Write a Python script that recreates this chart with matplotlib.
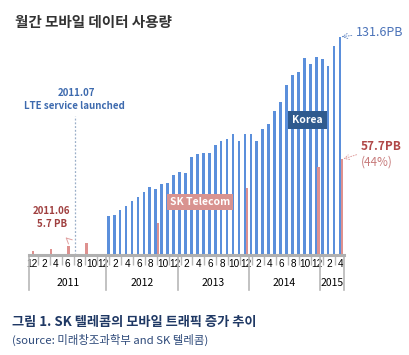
import matplotlib.pyplot as plt
import numpy as np

plt.rcParams['font.family'] = ['Noto Sans CJK KR', 'DejaVu Sans']

# months 2010-12 .. 2015-04 (53 categories)
month_nums = [12] + [m for y in range(2011, 2015) for m in range(1, 13)] + [1, 2, 3, 4]
years = ["2011", "2012", "2013", "2014", "2015"]
year_bounds = [0, 13, 25, 37, 49, 53]

# Korea total (PB), 2012-01 .. 2015-04
korea_start = 13
korea = [23.5, 24.1, 26.9, 29.5, 32.7, 34.8, 38.0, 40.8, 39.8, 42.6, 43.6, 48.2,
         50.2, 49.2, 58.9, 60.7, 61.7, 61.3, 66.1, 68.9, 69.7, 72.9, 68.9, 73.1,
         72.9, 68.9, 76.2, 79.0, 86.6, 92.6, 102.3, 108.9, 110.3, 118.6, 115.3, 119.5,
         118.1, 114.3, 126.2, 131.6]

# SK Telecom (PB) at selected months
skt_idx = [0, 3, 6, 9, 21, 36, 48, 52]
skt = [2.2, 3.4, 5.7, 7.1, 19.1, 40.2, 53.2, 57.7]

blue = "#5B8FDB"
pink = "#DE918F"
n = len(month_nums)

fig = plt.figure(figsize=(4.10, 3.55), dpi=100)
ax = fig.add_axes([29 / 410, 100 / 355, 315 / 410, 232 / 355])

kx = np.arange(korea_start, korea_start + len(korea))
ax.bar(kx - 0.17, korea, width=0.45, color=blue, zorder=2)
ax.bar(np.array(skt_idx) + 0.17, skt, width=0.42, color=pink, zorder=2)

ax.set_xlim(-0.5, n - 0.5)
ax.set_ylim(0, 140)
for s in ["top", "left", "right"]:
    ax.spines[s].set_visible(False)
ax.spines["bottom"].set_color("#B0B0B0")
ax.spines["bottom"].set_linewidth(2.2)
ax.set_yticks([])

ticks = list(range(0, n, 2))
ax.set_xticks(ticks)
ax.set_xticklabels([str(month_nums[i]) for i in ticks], fontsize=7.2,
                   color="black", family="Liberation Sans")
ax.tick_params(axis="x", length=0, pad=3)
ax.set_xticks(list(range(1, n, 2)), minor=True)
ax.tick_params(axis="x", which="minor", length=7, width=1, color="#B8B8B8")

trans = ax.get_xaxis_transform()
for b in year_bounds:
    ax.plot([b - 0.5, b - 0.5], [0, -0.15], transform=trans, color="#B8B8B8",
            lw=1.2, clip_on=False)
for k, yl in enumerate(years):
    mid = (year_bounds[k] + year_bounds[k + 1]) / 2 - 0.5
    ax.text(mid, -0.122, yl, transform=trans, ha="center", va="center",
            fontsize=7.5, color="black")

# LTE launch marker
ax.plot([7.2, 7.2], [0, 84], color="#9AAFC8", lw=0.9, ls=(0, (1.5, 1.5)), zorder=1)
ax.text(7.5, 98, "2011.07", ha="center", va="center", fontsize=7,
        fontweight="bold", color="#3D6AAE")
ax.text(7.2, 90, "LTE service launched", ha="center", va="center", fontsize=7,
        fontweight="bold", color="#3D6AAE")

# 2011.06 note
ax.text(3.3, 26.5, "2011.06", ha="center", va="center", fontsize=7,
        fontweight="bold", color="#A04040")
ax.text(3.3, 18.5, "5.7 PB", ha="center", va="center", fontsize=7,
        fontweight="bold", color="#A04040")
ax.annotate("", xy=(5.3, 11.8), xytext=(6.2, 8.8),
            arrowprops=dict(arrowstyle="->", color="#E0A0A0", lw=0.7))

# end labels
ax.annotate("131.6PB", xy=(52 - 0.17, korea[-1]), xytext=(54.5, 134.5),
            fontsize=9, color="#4A72B8", va="center", annotation_clip=False,
            arrowprops=dict(arrowstyle="->", color="#6E90C8", lw=0.7, ls=":",
                            shrinkA=1, shrinkB=1))
ax.annotate("57.7PB", xy=(52 + 0.17, skt[-1]), xytext=(55.3, 65.3),
            fontsize=8.5, fontweight="bold", color="#B04848", va="center",
            annotation_clip=False,
            arrowprops=dict(arrowstyle="->", color="#E0A0A0", lw=0.7, ls=":",
                            shrinkA=1, shrinkB=1))
ax.text(55.3, 56.2, "(44%)", fontsize=8.5, color="#C77A7A", va="center")

# series label boxes
ax.text(46.3, 81.4, "Korea", ha="center", va="center", fontsize=7.5,
        fontweight="bold", color="white", zorder=5,
        bbox=dict(boxstyle="square,pad=0.4", fc="#2F5A8E", ec="none"))
ax.text(28.3, 32, "SK Telecom", ha="center", va="center", fontsize=7.5,
        fontweight="bold", color="white", zorder=5,
        bbox=dict(boxstyle="square,pad=0.3", fc="#D99390", ec="none"))

fig.text(15 / 410, 1 - 22 / 355, "월간 모바일 데이터 사용량", fontsize=10.5,
         fontweight="bold", color="#333333", va="center")
fig.text(12 / 410, 1 - 322 / 355, "그림 1. SK 텔레콤의 모바일 트래픽 증가 추이",
         fontsize=9.5, fontweight="bold", color="#1F3864", va="center")
fig.text(12 / 410, 1 - 340 / 355, "(source: 미래창조과학부 and SK 텔레콤)",
         fontsize=8.2, color="#2E4A7A", va="center")

fig.savefig("out.png", dpi=100)
